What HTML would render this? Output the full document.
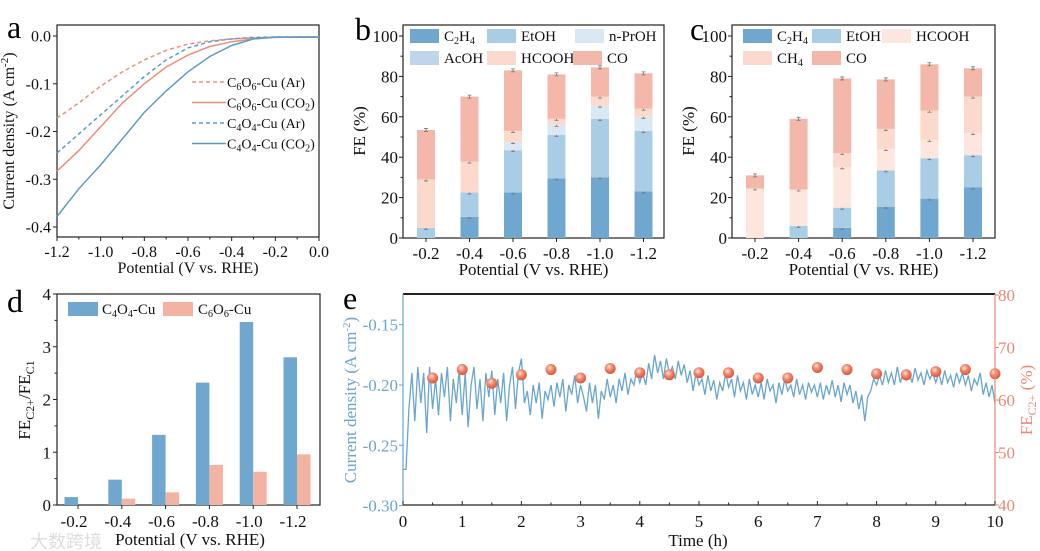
<!DOCTYPE html>
<html><head><meta charset="utf-8">
<style>
html,body{margin:0;padding:0;background:#fff;}
svg{display:block;font-family:"Liberation Serif",serif;}
</style></head>
<body>
<svg id="fig" width="1040" height="551" viewBox="0 0 1040 551" xmlns="http://www.w3.org/2000/svg"></svg>
<script>
// ---------- Panel a data ----------
const aPot = [-1.2,-1.1,-1.0,-0.9,-0.8,-0.7,-0.6,-0.5,-0.4,-0.3,-0.2,-0.1,0.0];
const aC6Ar = [-0.172,-0.14,-0.105,-0.075,-0.05,-0.03,-0.017,-0.01,-0.006,-0.004,-0.003,-0.003,-0.003];
const aC6CO2 = [-0.283,-0.24,-0.19,-0.14,-0.1,-0.065,-0.04,-0.022,-0.012,-0.006,-0.003,-0.002,-0.002];
const aC4Ar = [-0.245,-0.205,-0.165,-0.125,-0.085,-0.05,-0.025,-0.012,-0.006,-0.003,-0.002,-0.002,-0.002];
const aC4CO2 = [-0.378,-0.32,-0.27,-0.215,-0.16,-0.115,-0.075,-0.043,-0.02,-0.006,-0.002,-0.002,-0.002];
const aXTicks = ["-1.2","-1.0","-0.8","-0.6","-0.4","-0.2","0.0"];
const aYTicks = ["0.0","-0.1","-0.2","-0.3","-0.4"];
// ---------- Panel b data ----------
const potCats = ["-0.2","-0.4","-0.6","-0.8","-1.0","-1.2"];
const bC2H4 = [0,10.5,22.5,29.5,30,23];
const bEtOH = [5,12,21,21.5,29,30];
const bPrOH = [0,0,4,5,6.5,7];
const bAcOH = [0,0,0,0,0,0];
const bHCOOH = [24,15.3,5.5,3,4.5,4];
const bCO = [24.5,32.2,30,22,14.5,17.5];
// ---------- Panel c data ----------
const cC2H4 = [0,0,5,15.5,19.5,25];
const cEtOH = [0,6,10,18,20,16];
const cHCOOH = [24.5,18,20,10.5,9,11];
const cCH4 = [0,0,7,10,14.5,18];
const cCO = [6.5,35,37,24.5,23,14];
const feTicks = ["0","20","40","60","80","100"];
// ---------- Panel d data ----------
const dC4 = [0.15,0.48,1.33,2.32,3.47,2.80];
const dC6 = [0,0.12,0.24,0.76,0.63,0.96];
const dYTicks = ["0","1","2","3","4"];
// ---------- Panel e data ----------
const eCurrent = [-0.27,-0.27,-0.22,-0.19,-0.23,-0.185,-0.215,-0.19,-0.24,-0.185,-0.22,
-0.195,-0.225,-0.19,-0.21,-0.185,-0.23,-0.195,-0.215,-0.188,-0.225,
-0.19,-0.235,-0.2,-0.185,-0.22,-0.195,-0.23,-0.19,-0.21,-0.188,
-0.225,-0.195,-0.215,-0.19,-0.23,-0.2,-0.185,-0.22,-0.19,-0.178,
-0.215,-0.205,-0.225,-0.2,-0.215,-0.198,-0.228,-0.205,-0.212,-0.2,
-0.218,-0.198,-0.21,-0.195,-0.222,-0.2,-0.208,-0.192,-0.215,-0.2,
-0.21,-0.222,-0.198,-0.215,-0.2,-0.228,-0.205,-0.212,-0.195,-0.21,
-0.2,-0.215,-0.195,-0.205,-0.19,-0.208,-0.195,-0.2,-0.188,-0.198,
-0.19,-0.2,-0.182,-0.195,-0.175,-0.19,-0.18,-0.195,-0.178,-0.19,
-0.185,-0.195,-0.18,-0.192,-0.183,-0.198,-0.188,-0.205,-0.19,-0.2,
-0.195,-0.208,-0.192,-0.205,-0.196,-0.212,-0.198,-0.205,-0.19,-0.202,
-0.195,-0.21,-0.192,-0.205,-0.198,-0.212,-0.195,-0.208,-0.2,-0.21,
-0.198,-0.212,-0.195,-0.205,-0.2,-0.215,-0.198,-0.208,-0.195,-0.205,
-0.2,-0.21,-0.195,-0.208,-0.2,-0.212,-0.198,-0.206,-0.2,-0.21,
-0.198,-0.212,-0.2,-0.208,-0.196,-0.21,-0.2,-0.214,-0.198,-0.208,
-0.2,-0.215,-0.205,-0.22,-0.208,-0.23,-0.21,-0.205,-0.195,-0.2,
-0.192,-0.2,-0.188,-0.198,-0.19,-0.2,-0.185,-0.198,-0.19,-0.196,
-0.19,-0.198,-0.186,-0.196,-0.19,-0.2,-0.188,-0.195,-0.19,-0.198,
-0.19,-0.2,-0.188,-0.198,-0.192,-0.202,-0.19,-0.198,-0.19,-0.2,
-0.192,-0.205,-0.195,-0.2,-0.19,-0.208,-0.198,-0.21,-0.2,-0.215];
const eTimeStep = 0.05;
const eFETimes = [0.5,1,1.5,2,2.5,3,3.5,4,4.5,5,5.5,6,6.5,7,7.5,8,8.5,9,9.5,10];
const eFE = [64.2,65.8,63.2,64.8,65.8,64.2,66.0,65.2,64.8,65.2,65.2,64.2,64.2,66.2,65.8,65.0,64.8,65.4,65.8,65.0];
const eXTicks = ["0","1","2","3","4","5","6","7","8","9","10"];
const eLTicks = ["-0.15","-0.20","-0.25","-0.30"];
const eRTicks = ["40","50","60","70","80"];

const NS="http://www.w3.org/2000/svg";
const svg=document.getElementById('fig');
function mk(tag,attrs,parent){const e=document.createElementNS(NS,tag);for(const k in attrs)e.setAttribute(k,attrs[k]);(parent||svg).appendChild(e);return e;}
function txt(x,y,s,size,anchor,fill,parent){const t=mk('text',{x:x,y:y,'font-size':size,'text-anchor':anchor||'middle',fill:fill||'#111'},parent);t.innerHTML=s;return t;}

const BLUE='#5b9bc8', ORG='#ee8e7a';

// ================= Panel a =================
{
const g=mk('g',{});


const L=57,R=319,T=25,B=237;
const xs=v=>L+(v+1.2)/1.2*(R-L);
const ys=v=>36+(-v)/0.4*(227-36);
const box=mk('rect',{x:L,y:T,width:R-L,height:B-T,fill:'none',stroke:'#222','stroke-width':1.2},g);

aXTicks.forEach(s=>{const v=parseFloat(s),x=xs(v);mk('line',{x1:x,x2:x,y1:B,y2:B+4,stroke:'#222'},g);const t=txt(x,B+20,s,16,'middle','#111',g);});
for(let v=-1.1;v<0;v+=0.2){const x=xs(v);mk('line',{x1:x,x2:x,y1:B,y2:B+2.5,stroke:'#222'},g);}
aYTicks.forEach(s=>{const v=parseFloat(s),y=ys(v);mk('line',{x1:L,x2:L-4,y1:y,y2:y,stroke:'#222'},g);const t=txt(L-6,y+5.5,s,16,'end','#111',g);});
const xl=txt(188,273,'Potential (V vs. RHE)',16,'middle','#111',g);
const yl=txt(0,0,'Current density (A cm<tspan dy="-6" font-size="11">-2</tspan><tspan dy="6">)</tspan>',16,'middle','#111',g);
yl.setAttribute('transform','translate(14,131) rotate(-90)');
const series=[[aC6Ar,ORG,'4,3','C<tspan font-size="10" dy="3">6</tspan><tspan dy="-3">O</tspan><tspan font-size="10" dy="3">6</tspan><tspan dy="-3">-Cu (Ar)</tspan>','curve-c6o6-ar'],
[aC6CO2,ORG,'','C<tspan font-size="10" dy="3">6</tspan><tspan dy="-3">O</tspan><tspan font-size="10" dy="3">6</tspan><tspan dy="-3">-Cu (CO</tspan><tspan font-size="10" dy="3">2</tspan><tspan dy="-3">)</tspan>','curve-c6o6-co2'],
[aC4Ar,BLUE,'4,3','C<tspan font-size="10" dy="3">4</tspan><tspan dy="-3">O</tspan><tspan font-size="10" dy="3">4</tspan><tspan dy="-3">-Cu (Ar)</tspan>','curve-c4o4-ar'],
[aC4CO2,BLUE,'','C<tspan font-size="10" dy="3">4</tspan><tspan dy="-3">O</tspan><tspan font-size="10" dy="3">4</tspan><tspan dy="-3">-Cu (CO</tspan><tspan font-size="10" dy="3">2</tspan><tspan dy="-3">)</tspan>','curve-c4o4-co2']];
series.forEach((s,i)=>{
 const pts=aPot.map((p,j)=>xs(p).toFixed(1)+','+ys(s[0][j]).toFixed(1)).join(' ');
 const pl=mk('polyline',{points:pts,fill:'none',stroke:s[1],'stroke-width':1.5,'stroke-dasharray':s[2]},g);
 
 const ly=82+i*20.5;
 mk('line',{x1:192,x2:226,y1:ly,y2:ly,stroke:s[1],'stroke-width':1.5,'stroke-dasharray':s[2]},g);
 const t=txt(227,ly+5,s[3],14,'start','#111',g);
});
const la=txt(7,38,'a',32,'start','#000',g);
}

// ================= stacked bar panels =================
function stacked(name,L,R,firstX,step,layers,colors,legend,letter,letterX){
 const g=mk('g',{});
 
 
 const T=25,B=238;
 const ys=v=>B-v/100*(B-36);
 const fr=mk('rect',{x:L,y:T,width:R-L,height:B-T,fill:'none',stroke:'#222','stroke-width':1.2},g);
 
 feTicks.forEach(s=>{const y=ys(+s);mk('line',{x1:L,x2:L-4,y1:y,y2:y,stroke:'#222'},g);const t=txt(L-5,y+6,s,17,'end','#111',g);});
 for(let v=10;v<100;v+=20){const y=ys(v);mk('line',{x1:L,x2:L-2.5,y1:y,y2:y,stroke:'#222'},g);}
 potCats.forEach((c,i)=>{
  const cx=firstX+i*step;
  mk('line',{x1:cx,x2:cx,y1:B,y2:B+4,stroke:'#222'},g);
  const t=txt(cx,B+21,c,17,'middle','#111',g);
  let cum=0;
  layers.forEach((arr,k)=>{
   const v=arr[i]; if(v<=0) return;
   const r=mk('rect',{x:cx-9,y:ys(cum+v),width:18,height:ys(cum)-ys(cum+v),fill:colors[k]},g);
   
   cum+=v;
   const ey=ys(cum);
   mk('path',{d:`M${cx-2},${ey-1.5}h4M${cx},${ey-1.5}v3M${cx-2},${ey+1.5}h4`,stroke:'#777','stroke-width':0.8,fill:'none'},g);
  });
 });
 legend.forEach(l=>{
  const r=mk('rect',{x:l[2],y:l[3]-7,width:29,height:14,fill:colors[legend.indexOf(l)]},g);
  
  const t=txt(l[2]+34,l[3]+5,l[0],15,'start','#111',g);
 });
 const xl=txt((L+R)/2,275,'Potential (V vs. RHE)',17,'middle','#111',g);
 const yl=txt(0,0,'FE (%)',17,'middle','#111',g);yl.setAttribute('transform',`translate(${L-38},131) rotate(-90)`);
 const lt=txt(letterX,40,letter,32,'start','#000',g);
}
const sub=(a,b,c)=>a+'<tspan font-size="10" dy="3">'+b+'</tspan><tspan dy="-3">'+c+'</tspan>';
stacked('panel-b',403,664,426,43.5,[bC2H4,bEtOH,bPrOH,bAcOH,bHCOOH,bCO],
 ['#6fa7cf','#a9cde4','#dae8f4','#bfd5ea','#fbdacd','#f3b8aa'],
 [[sub('C','2','H')+'<tspan font-size="10" dy="3">4</tspan>','c2h4',410,36],['EtOH','etoh',487,36],['n-PrOH','n-proh',575,36],
  ['AcOH','acoh',410,58],['HCOOH','hcooh',487,58],['CO','co',573,58]],'b',355);
stacked('panel-c',732,995,755,43.6,[cC2H4,cEtOH,cHCOOH,cCH4,cCO],
 ['#6fa7cf','#a9cde4','#fde6dd','#fbd9cc','#f3b8aa'],
 [[sub('C','2','H')+'<tspan font-size="10" dy="3">4</tspan>','c2h4',743,36],['EtOH','etoh',812,36],['HCOOH','hcooh',882,36],
  [sub('CH','4',''),'ch4',743,58],['CO','co',812,58]],'c',690);

// ================= Panel d =================
{
const g=mk('g',{});


const L=57,R=320,T=294,B=505;
const ys=v=>B-v/4*(B-T);
const fr=mk('rect',{x:L,y:T,width:R-L,height:B-T,fill:'none',stroke:'#222','stroke-width':1.2},g);

dYTicks.forEach(s=>{const y=ys(+s);mk('line',{x1:L,x2:L-4,y1:y,y2:y,stroke:'#222'},g);const t=txt(L-6,y+6,s,17,'end','#111',g);});
for(let v=0.5;v<4;v+=1){const y=ys(v);mk('line',{x1:L,x2:L-2.5,y1:y,y2:y,stroke:'#222'},g);}
potCats.forEach((c,i)=>{
 const cx=78+i*43.8;
 mk('line',{x1:cx,x2:cx,y1:B,y2:B+4,stroke:'#222'},g);
 const t=txt(cx-4,B+22,c,17,'middle','#111',g);
 const b1=mk('rect',{x:cx-13.5,y:ys(dC4[i]),width:13.5,height:B-ys(dC4[i]),fill:'#6fa7cf'},g);
 
 const b2=mk('rect',{x:cx,y:ys(dC6[i]),width:13.5,height:B-ys(dC6[i]),fill:'#f3b3a2'},g);
 
});
mk('rect',{x:68,y:302,width:30,height:14,fill:'#6fa7cf'},g);
const l1=txt(102,314,sub('C','4','O')+'<tspan font-size="10" dy="3">4</tspan><tspan dy="-3">-Cu</tspan>',15,'start','#111',g);
mk('rect',{x:163,y:302,width:30,height:14,fill:'#f3b3a2'},g);
const l2=txt(198,314,sub('C','6','O')+'<tspan font-size="10" dy="3">6</tspan><tspan dy="-3">-Cu</tspan>',15,'start','#111',g);
const xl=txt(190,545,'Potential (V vs. RHE)',17,'middle','#111',g);
const yl=txt(0,0,'FE<tspan font-size="12" dy="4">C2+</tspan><tspan dy="-4">/FE</tspan><tspan font-size="12" dy="4">C1</tspan>',17,'middle','#111',g);
yl.setAttribute('transform','translate(30,400) rotate(-90)');
const lt=txt(7,312,'d',32,'start','#000',g);
const wm=txt(30,548,'大数跨境',18,'start','#ddd',g);wm.setAttribute('font-family','"Liberation Sans","Noto Sans CJK SC",sans-serif');
}

// ================= Panel e =================
{
const g=mk('g',{});


const L=403,R=995,T=294,B=505;
const xs=t=>L+t/10*(R-L);
const yl=v=>385+(-0.2-v)/0.05*60.3;
const yr=v=>B-(v-40)/40*(B-295);
const pts=eCurrent.map((v,i)=>xs(i*eTimeStep).toFixed(1)+','+yl(v).toFixed(1)).join(' ');
const ln=mk('polyline',{points:pts,fill:'none',stroke:'#6aa5cf','stroke-width':1.3},g);

const defs=mk('defs',{},g);
const rg=mk('radialGradient',{id:'ball',cx:'0.4',cy:'0.35',r:'0.65'},defs);
mk('stop',{offset:'0','stop-color':'#fde2d8'},rg);mk('stop',{offset:'0.45','stop-color':'#f08a6e'},rg);mk('stop',{offset:'1','stop-color':'#d9573c'},rg);
eFETimes.forEach((t,i)=>{const c=mk('circle',{cx:xs(t),cy:yr(eFE[i]),r:5.5,fill:'url(#ball)'},g);
 });
mk('line',{x1:L,x2:R,y1:T,y2:T,stroke:'#222','stroke-width':2},g);
mk('line',{x1:L,x2:R,y1:B,y2:B,stroke:'#222','stroke-width':1.2},g);
mk('line',{x1:L,x2:L,y1:T,y2:B,stroke:'#6aa5cf','stroke-width':1.2},g);
mk('line',{x1:R,x2:R,y1:T,y2:B,stroke:'#ea8a74','stroke-width':1.2},g);
eXTicks.forEach(s=>{const x=xs(+s);mk('line',{x1:x,x2:x,y1:B,y2:B-4,stroke:'#222'},g);if(+s<10)mk('line',{x1:x+29.6,x2:x+29.6,y1:B,y2:B-2.5,stroke:'#222'},g);
 const t=txt(x,B+22,s,17,'middle','#111',g);});
eLTicks.forEach(s=>{const y=yl(+s);mk('line',{x1:L,x2:L-4,y1:y,y2:y,stroke:'#6aa5cf'},g);
 const t=txt(L-5,y+6,s,17,'end','#6aa5cf',g);});
eRTicks.forEach(s=>{const y=yr(+s);mk('line',{x1:R,x2:R+4,y1:y,y2:y,stroke:'#ea8a74'},g);
 const t=txt(R+3,y+6,s,17,'start','#ea8a74',g);});
const xl=txt(698,546,'Time (h)',17,'middle','#111',g);
const y1=txt(0,0,'Current density  (A cm<tspan dy="-6" font-size="11">-2</tspan><tspan dy="6">)</tspan>',17,'middle','#6aa5cf',g);
y1.setAttribute('transform','translate(356,400) rotate(-90)');
const y2=txt(0,0,'FE<tspan font-size="12" dy="4">C2+</tspan><tspan dy="-4"> (%)</tspan>',17,'middle','#ea8a74',g);
y2.setAttribute('transform','translate(1032,400) rotate(-90)');
const lt=txt(343,309,'e',32,'start','#000',g);
}
</script>
</body></html>
